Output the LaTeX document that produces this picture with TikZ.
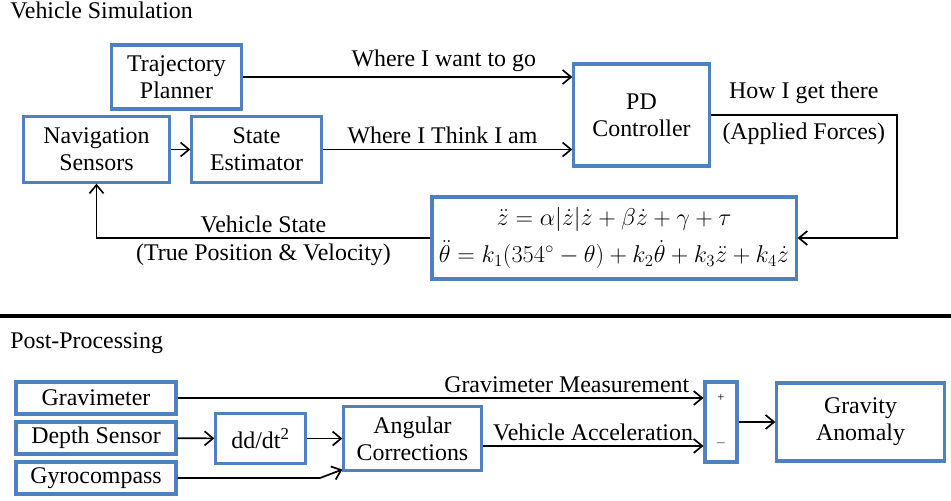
\documentclass[tikz,border=0pt]{standalone}
\usepackage{fontspec}
\setmainfont{Liberation Serif}
\usepackage{amsmath}
\usetikzlibrary{positioning,arrows.meta}
\definecolor{boxblue}{HTML}{4F81BD}
\tikzset{
  blk/.style={draw=boxblue, line width=2.2pt, align=center, inner sep=1pt, fill=white},
  sig/.style={-{Straight Barb[length=6pt,width=10pt]}, line width=1.2pt},
  head/.style={anchor=base west, inner sep=0pt},
  sgn/.style={font=\fontsize{9}{10}\selectfont, inner sep=0pt}
}

\begin{document}
\begin{tikzpicture}[x=0.025cm, y=-0.025cm, font=\fontsize{17}{19}\selectfont]
  \useasboundingbox (0,0) rectangle (951,500);

  % vehicle simulation
  \node[head] (simhead) at (10,18) {Vehicle Simulation};
  \node[blk, minimum width=3.23cm, minimum height=1.6cm] (traj) at (176.5,77) {Trajectory\\Planner};
  \node[blk, minimum width=3.63cm, minimum height=1.63cm] (nav) at (96.5,149.5) {Navigation\\Sensors};
  \node[blk, minimum width=3.23cm, minimum height=1.63cm] (est) at (256.5,149.5) {State\\Estimator};
  \node[blk, minimum width=3.38cm, minimum height=2.55cm] (pd) at (641.5,115) {PD\\Controller};
  \node[blk, minimum width=9.1cm, minimum height=2.05cm] (eq) at (614,238)
    {$\ddot{z} = \alpha|\dot{z}|\dot{z} + \beta\dot{z} + \gamma + \tau$\\[5pt]
     $\ddot{\theta} = k_1(354^\circ - \theta) + k_2\dot{\theta} + k_3\ddot{z} + k_4\dot{z}$};
  \coordinate (turn) at (897,115);

  \draw[sig] (traj.east) -- node[above, pos=0.61] {Where I want to go} (traj.east -| pd.west);
  \draw[sig] (nav) -- (est);
  \draw[sig] (est.east) -- node[above, pos=0.48] {Where I Think I am} (est.east -| pd.west);
  \draw[sig] (pd.east) -- node[above=4pt] {How I get there} node[below=2pt] {(Applied Forces)} (turn) |- (eq.east);
  \draw[sig] (eq.west) -| node[pos=0.25, above] {Vehicle State} node[pos=0.25, below] {(True Position \& Velocity)} (nav.south);

  \draw[line width=2.2pt] (0,316) -- (951,316);

  % post-processing
  \node[head] (posthead) at (10,348) {Post-Processing};
  \node[blk, minimum width=4cm, minimum height=0.8cm] (grav) at (96,398) {Gravimeter};
  \node[blk, minimum width=4cm, minimum height=0.8cm] (depth) at (96,438) {Depth Sensor};
  \node[blk, minimum width=4cm, minimum height=0.8cm] (gyro) at (96,478) {Gyrocompass};
  \node[blk, minimum width=2.23cm, minimum height=1.23cm] (ddt) at (260.5,438.5) {dd/dt\textsuperscript{2}};
  \node[blk, minimum width=3.43cm, minimum height=1.58cm] (ang) at (412.5,438.5) {Angular\\Corrections};
  \node[blk, minimum width=0.8cm, minimum height=2cm] (sum) at (721,422) {};
  \node[sgn] (plus) at (721,398) {+};
  \node[sgn] (minus) at (721,443) {$-$};
  \node[blk, minimum width=4.18cm, minimum height=1.95cm] (anom) at (860.5,422) {Gravity\\Anomaly};
  \coordinate (gbend) at (320,478);

  \draw[sig] (grav.east) -- node[above, pos=0.74] {Gravimeter Measurement} (grav.east -| sum.west);
  \draw[sig] (depth) -- (ddt);
  \draw[sig] (ddt) -- (ang);
  \draw[sig] (gyro.east) -- (gbend) -- ([yshift=1.5pt]ang.south west);
  \draw[sig] ([yshift=-5.3pt]ang.east) -- node[above] {Vehicle Acceleration} ([yshift=-5.3pt]ang.east -| sum.west);
  \draw[sig] (sum) -- (anom);
\end{tikzpicture}
\end{document}
